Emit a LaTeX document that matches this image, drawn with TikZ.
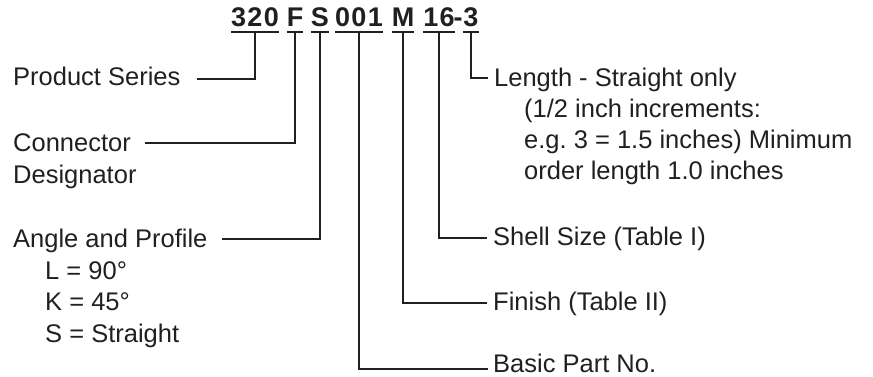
\documentclass[tikz,border=0pt]{standalone}
\usepackage{fontspec}
\setmainfont{Liberation Sans}
\newfontfamily\titlefont[LetterSpace=5]{Liberation Sans}
\definecolor{ink}{HTML}{231F20}
\begin{document}
\begin{tikzpicture}[x=1pt,y=-1pt,
  lbl/.style={anchor=base west, inner sep=0pt, font=\fontsize{25.5}{30}\selectfont, text=ink},
  part/.style={anchor=base, inner xsep=0pt, inner ysep=0pt, text depth=5pt, font=\titlefont\bfseries\fontsize{27}{30}\selectfont, text=ink},
  conn/.style={draw=ink, line width=1.9pt},
]
\useasboundingbox (0,0) rectangle (873,377);
% title parts
\node[part] (t320) at (255,27) {320};
\node[part] (tF) at (295,27) {F};
\node[part] (tS) at (320,27) {S};
\node[part] (t001) at (359,27) {001};
\node[part] (tM) at (403,27) {M};
\node[part] (t16) at (439,27) {16};
\node[part] (tdash) at (458,27) {-};
\node[part] (t3) at (471,27) {3};
% underlines
\foreach \p in {t320,tF,tS,t001,tM,t16,t3}
  \draw[conn] (\p.south west) -- (\p.south east);
% left labels
\node[lbl] (ps) at (13,86) {Product Series};
\node[lbl] (cd) at (13,152) {Connector};
\node[lbl] (cd2) at (13,183) {Designator};
\node[lbl] (ap) at (13,247) {Angle and Profile};
\node[lbl] (ap1) at (45,279) {L = 90°};
\node[lbl] (ap2) at (45,310) {K = 45°};
\node[lbl] (ap3) at (45,342) {S = Straight};
% right labels
\node[lbl] (len) at (494,87) {Length - Straight only};
\node[lbl] (len2) at (524,118) {(1/2 inch increments:};
\node[lbl] (len3) at (524,149) {e.g.\ 3 = 1.5 inches) Minimum};
\node[lbl] (len4) at (524,179) {order length 1.0 inches};
\node[lbl] (sh) at (493,245) {Shell Size (Table I)};
\node[lbl] (fin) at (493,310) {Finish (Table II)};
\node[lbl] (bp) at (493,372) {Basic Part No.};
% connector ends
\coordinate (e1) at (197,79);
\coordinate (e2) at (145,143);
\coordinate (e3) at (222,239);
\coordinate (e4) at (488,369);
\coordinate (e5) at (487,303);
\coordinate (e6) at (487,238);
\coordinate (e7) at (488,78);
% connectors
\draw[conn] (t320.south) |- (e1);
\draw[conn] (tF.south) |- (e2);
\draw[conn] (tS.south) |- (e3);
\draw[conn] (t001.south) |- (e4);
\draw[conn] (tM.south) |- (e5);
\draw[conn] (t16.south) |- (e6);
\draw[conn] (t3.south) |- (e7);
\end{tikzpicture}
\end{document}
